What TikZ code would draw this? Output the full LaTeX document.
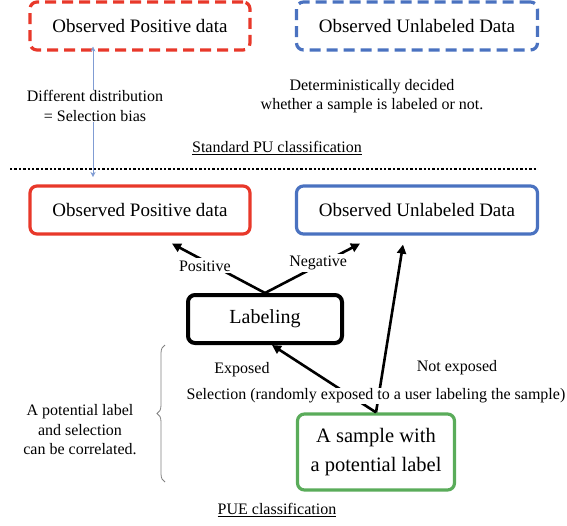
\documentclass[tikz,border=0pt]{standalone}
\usepackage{fontspec}
\setmainfont{Liberation Serif}
\usepackage{tikz}
\usetikzlibrary{arrows.meta,positioning,decorations.pathreplacing}
\definecolor{posred}{RGB}{232,56,42}
\definecolor{unlblue}{RGB}{74,114,192}
\definecolor{smpgreen}{RGB}{90,172,90}
\begin{document}
\begin{tikzpicture}[x=1pt,y=-1pt,->,>={Triangle[length=9pt,width=9pt]},line width=2.6pt,
  every node/.style={font=\fontsize{16}{19.5}\selectfont,align=center}]
\tikzstyle{databox}=[draw,rounded corners=7pt,line width=3.2pt,minimum height=48pt,font=\fontsize{19}{22}\selectfont]
  \tikzstyle{dashbox}=[databox,dash pattern=on 11pt off 6pt]
  \tikzstyle{lbl}=[fill=white,inner sep=2pt]
\useasboundingbox (0,0) rectangle (567,525);
%
% standard PU
\node[dashbox,draw=posred,minimum width=220pt] (posT) at (140,26) {Observed Positive data};
  \node[dashbox,draw=unlblue,minimum width=241pt] (unlT) at (417,26) {Observed Unlabeled Data};
  \node (determ) at (372,96) {Deterministically decided\\whether a sample is labeled or not.};
  \node (stdpu) at (277,148) {\underline{Standard PU classification}};
  \coordinate (sepL) at (10,169);
  \coordinate (sepR) at (537,169);
  \draw[-,dotted,line width=2.4pt] (sepL) -- (sepR);
%
% PUE
\node[databox,draw=posred,minimum width=220pt] (posB) at (140,210) {Observed Positive data};
  \node[databox,draw=unlblue,minimum width=241pt] (unlB) at (417,210) {Observed Unlabeled Data};
  \node[databox,draw=black,line width=4pt,minimum width=154pt,minimum height=48pt,font=\fontsize{20}{23}\selectfont] (lab) at (265,319) {Labeling};
  \node[databox,draw=smpgreen,minimum width=157pt,minimum height=76pt,font=\fontsize{20.5}{29}\selectfont] (smp) at (376,452) {A sample with\\a potential label};
%
\draw[<->,>={Stealth[length=5pt,width=5pt]},line width=0.5pt,unlblue!70] (posT.south -| 93,0) ++(0,5pt) coordinate (biasT) -- (93,177) coordinate (biasB);
  \node[lbl,inner sep=1pt] (diff) at (95,106) {Different distribution\\= Selection bias};
%
\path (lab.north) edge node[lbl,pos=0.55,xshift=-9pt,inner xsep=8pt] {Positive} ([xshift=32pt,yshift=-8pt]posB.south);
  \path (lab.north) edge node[lbl,pos=0.56,yshift=2pt] {Negative} ([xshift=-57pt,yshift=-8pt]unlB.south);
  \draw (smp.north) -- ([xshift=7pt]lab.south);
  \draw (smp.north) -- ([xshift=-14pt,yshift=-9pt]unlB.south);
  \node[fill=white,inner sep=1pt,font=\fontsize{16}{19}\selectfont] (select) at (376,396) {Selection (randomly exposed to a user labeling the sample)};
  \node (exp) at (242,370) {Exposed};
  \node (notexp) at (457,368) {Not exposed};
%
\draw[-,decorate,decoration={brace,amplitude=8pt},line width=0.8pt,gray] (165,482) coordinate (brB) -- (165,345) coordinate (brT);
  \node (corr) at (80,430) {A potential label\\and selection\\can be correlated.};
  \node (pue) at (277,510) {\underline{PUE classification}};
\end{tikzpicture}
\end{document}
